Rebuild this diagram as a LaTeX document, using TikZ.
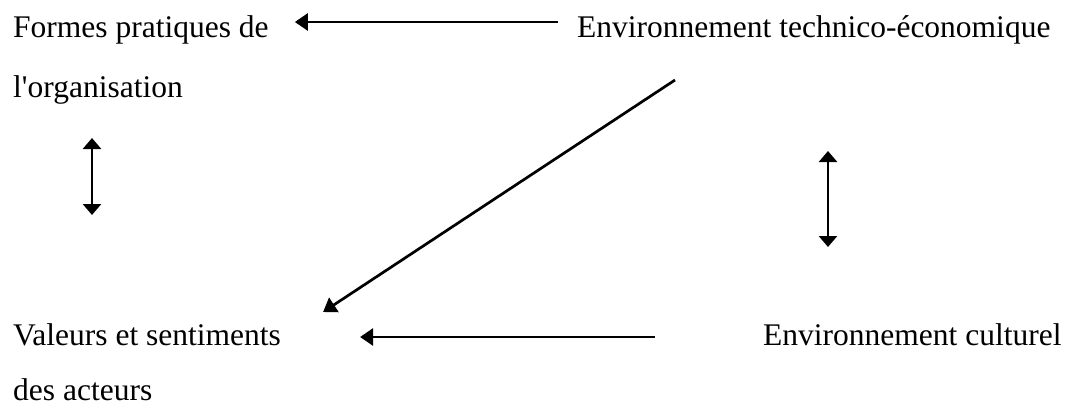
\documentclass[tikz,border=0pt]{standalone}
\usepackage{fontspec}
\setmainfont{Liberation Serif}
\usetikzlibrary{positioning, arrows.meta}

\tikzset{
  texte/.style={inner sep=0pt, anchor=base west, align=left},
  fleche/.style={line width=2.7pt, -{Triangle[length=13pt, width=17pt]}},
  doublefleche/.style={line width=2.7pt, {Triangle[length=11pt, width=18pt]}-{Triangle[length=11pt, width=18pt]}}
}

\begin{document}
\begin{tikzpicture}[x=1pt, y=1pt]
  \useasboundingbox (0,0) rectangle (1066,-408);

  % les quatre blocs de texte (base = derniere ligne)
  \node[texte, font=\fontsize{31.5}{60}\selectfont] (formes) at (13,-97)
    {Formes pratiques de\\l\textquotesingle organisation};
  \node[texte, font=\fontsize{31.5}{38}\selectfont] (techeco) at (577,-37)
    {Environnement technico-économique};
  \node[texte, font=\fontsize{31.5}{55}\selectfont] (valeurs) at (13,-400)
    {Valeurs et sentiments\\des acteurs};
  \node[texte, font=\fontsize{31.5}{38}\selectfont] (culturel) at (763,-345)
    {Environnement culturel};

  % liaisons
  \draw[fleche] ([shift={(-19,15)}]techeco.base west) -- ([shift={(26,75)}]formes.base east);
  \draw[fleche] ([shift={(98,-43)}]techeco.base west) -- ([shift={(42,88)}]valeurs.base east);
  \draw[fleche] ([shift={(-108,8)}]culturel.base west) -- ([shift={(79,63)}]valeurs.base east);
  \draw[doublefleche] ([shift={(79,-41)}]formes.base west) -- ([shift={(79,-118)}]formes.base west);
  \draw[doublefleche] ([shift={(65,194)}]culturel.base west) -- ([shift={(65,98)}]culturel.base west);
\end{tikzpicture}
\end{document}
